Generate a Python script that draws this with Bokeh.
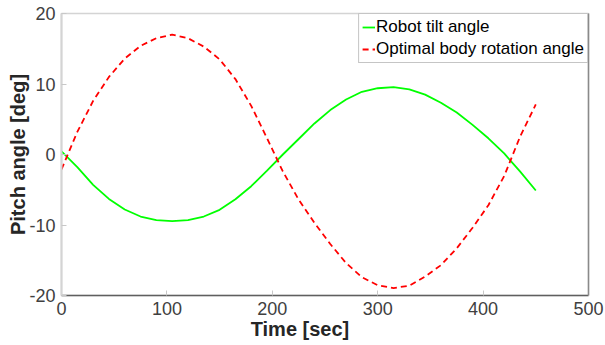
from bokeh.plotting import figure
from bokeh.models import (Range1d, FixedTicker, LinearAxis, Legend,
                          LegendItem, PrintfTickFormatter)
from bokeh.embed import file_html
from bokeh.resources import INLINE

# Sampled time axis [sec]
time_s = [0, 15, 30, 45, 60, 75, 90, 105, 120, 135, 150, 165, 180, 195, 210,
          225, 240, 255, 270, 285, 300, 315, 330, 345, 360, 375, 390, 405,
          420, 435, 450]

# Robot tilt angle [deg]
tilt_deg = [0.45, -1.8, -4.3, -6.3, -7.8, -8.8, -9.3, -9.46, -9.3, -8.8,
            -7.85, -6.35, -4.5, -2.3, 0.0, 2.2, 4.4, 6.3, 7.8, 8.9, 9.4,
            9.55, 9.25, 8.5, 7.35, 5.95, 4.2, 2.3, 0.15, -2.4, -5.1]

# Optimal body rotation angle [deg]
body_rot_deg = [-2.1, 3.2, 7.6, 11.0, 13.6, 15.4, 16.5, 17.0, 16.5, 15.3,
                13.5, 10.7, 6.9, 2.3, -2.4, -6.4, -9.7, -12.7, -15.4, -17.4,
                -18.55, -18.95, -18.6, -17.3, -15.7, -13.3, -10.4, -7.2, -3.05,
                2.5, 7.1]

x_ticks = [0, 100, 200, 300, 400, 500]
y_ticks = [-20, -10, 0, 10, 20]

FONT = "Liberation Sans"
TICK_COLOR = "#404040"
TITLE_COLOR = "#262626"

p = figure(width=605, height=345, output_backend="svg", toolbar_location=None,
           x_range=Range1d(0, 500), y_range=Range1d(-20, 20),
           min_border_left=61, min_border_right=17,
           min_border_top=13, min_border_bottom=50)
p.xgrid.visible = False
p.ygrid.visible = False
p.outline_line_color = "#d4d4d4"
p.outline_line_width = 1.5
p.background_fill_color = "white"
p.border_fill_color = "white"

for ax, ticks in ((p.xaxis[0], x_ticks), (p.yaxis[0], y_ticks)):
    ax.ticker = FixedTicker(ticks=ticks)
    ax.formatter = PrintfTickFormatter(format="%d")
    ax.major_tick_in = 5
    ax.major_tick_out = 0
    ax.minor_tick_line_color = None
    ax.major_tick_line_color = "#c8c8c8"
    ax.major_label_text_font = FONT
    ax.major_label_text_font_size = "18px"
    ax.major_label_text_color = TICK_COLOR
    ax.major_label_standoff = 6
    ax.axis_label_text_font = FONT
    ax.axis_label_text_font_size = "20px"
    ax.axis_label_text_font_style = "bold"
    ax.axis_label_text_color = TITLE_COLOR

# x title sits a little left of the axis centre
p.xaxis[0].axis_label = "Time [sec]" + "\u00a0" * 9
p.xaxis[0].axis_label_standoff = 0
p.xaxis[0].axis_line_color = "#5f5f5f"
p.xaxis[0].axis_line_width = 1.5

p.yaxis[0].axis_label = "Pitch angle [deg]"
p.yaxis[0].axis_label_standoff = -3
p.yaxis[0].axis_line_color = "#d4d4d4"
p.yaxis[0].axis_line_width = 2

# dark right edge of the axes box (no ticks, no labels)
right_edge = LinearAxis(ticker=FixedTicker(ticks=[]),
                        major_tick_line_color=None, minor_tick_line_color=None,
                        axis_line_color="#8a8a8a", axis_line_width=1.5)
p.add_layout(right_edge, "right")

r_tilt = p.line(time_s, tilt_deg, line_color="#00ff00", line_width=1.8)
r_body = p.line(time_s, body_rot_deg, line_color="#ff0000", line_width=1.8,
                line_dash="6 4")

legend = Legend(items=[LegendItem(label="Robot tilt angle", renderers=[r_tilt]),
                       LegendItem(label="Optimal body rotation angle", renderers=[r_body])],
                location="top_right", margin=0, padding=3, spacing=2,
                label_height=20, glyph_height=20, glyph_width=13,
                label_standoff=1,
                label_text_font=FONT, label_text_font_size="17px",
                label_text_color="black",
                border_line_color="#8c8c8c", border_line_width=1,
                background_fill_color="white", background_fill_alpha=1.0)
p.add_layout(legend)

open("out.html", "w").write(file_html(p, INLINE))
